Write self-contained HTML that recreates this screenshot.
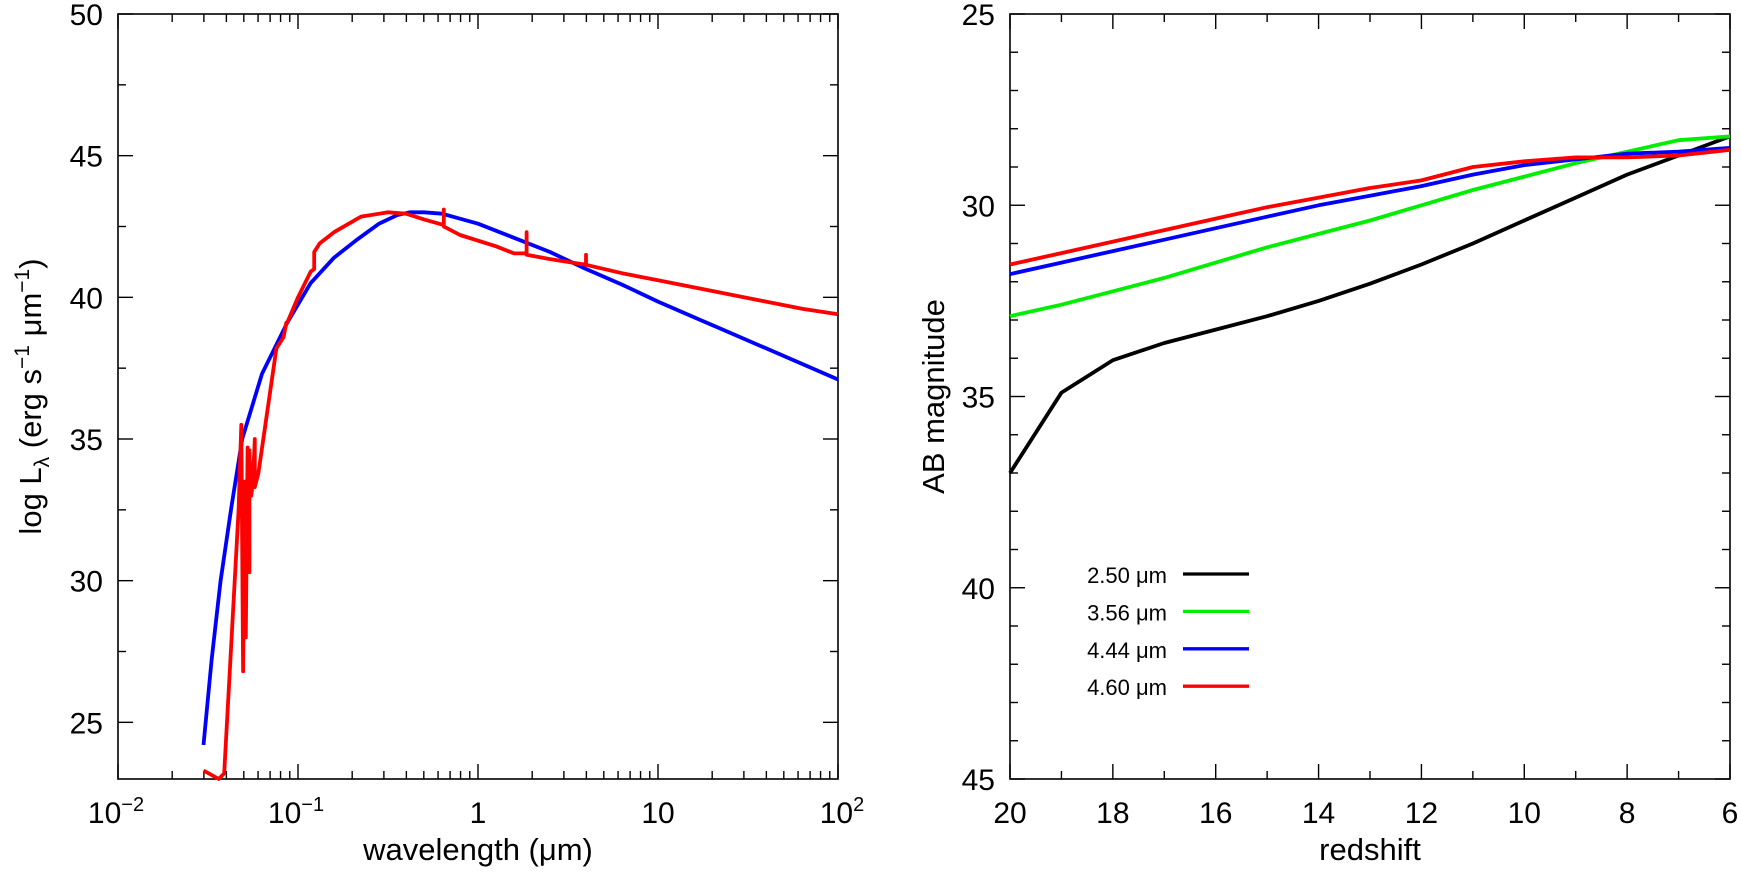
<!DOCTYPE html>
<html><head><meta charset="utf-8"><style>
body{margin:0;background:#fff}
svg{display:block;font-family:"Liberation Sans",Arial,sans-serif}
</style></head><body>
<svg id="chart" width="1741" height="881" viewBox="0 0 1741 881" xmlns="http://www.w3.org/2000/svg"></svg>
<script>
// Left panel data: log10(wavelength um), log L
const blueLogLam=[-1.525,-1.48,-1.43,-1.37,-1.31,-1.2,-1.06,-0.93,-0.8,-0.68,-0.55,-0.45,-0.38,-0.3,-0.2,0,0.2,0.4,0.6,0.8,1.0,1.2,1.4,1.6,1.8,2.0];
const blueLogL=[24.2,27.2,30.0,32.6,35.0,37.3,39.1,40.5,41.4,42.0,42.6,42.9,43.0,43.0,42.95,42.6,42.1,41.6,41.0,40.45,39.85,39.3,38.75,38.2,37.65,37.1];
const redLogLam=[-1.525,-1.44,-1.41,-1.33,-1.315,-1.305,-1.295,-1.29,-1.28,-1.27,-1.27,-1.26,-1.25,-1.24,-1.24,-1.22,-1.17,-1.12,-1.08,-1.065,-1.06,-1.0,-0.93,-0.91,-0.91,-0.88,-0.8,-0.65,-0.5,-0.4,-0.3,-0.19,-0.19,-0.19,-0.1,0.1,0.2,0.27,0.27,0.27,0.4,0.6,0.6,0.6,0.8,1.0,1.2,1.4,1.6,1.8,2.0];
const redLogL=[23.3,23.0,23.2,32.5,35.5,26.8,33.5,28.0,34.7,30.3,34.6,33.0,33.5,35.0,33.3,33.8,36.0,38.2,38.6,39.1,39.1,40.0,40.9,41.0,41.6,41.9,42.3,42.85,43.0,42.95,42.75,42.55,43.1,42.5,42.2,41.8,41.55,41.55,42.3,41.5,41.35,41.15,41.5,41.15,40.85,40.6,40.35,40.1,39.85,39.6,39.4];
// Right panel data: redshift vs AB magnitude
const redshifts=[20,19,18,17,16,15,14,13,12,11,10,9,8,7,6];
const mag250=[37.0,34.9,34.05,33.6,33.25,32.9,32.5,32.05,31.55,31.0,30.4,29.8,29.2,28.7,28.2];
const mag356=[32.9,32.6,32.25,31.9,31.5,31.1,30.75,30.4,30.0,29.6,29.25,28.9,28.6,28.3,28.2];
const mag444=[31.8,31.5,31.2,30.9,30.6,30.3,30.0,29.75,29.5,29.2,28.95,28.8,28.65,28.6,28.5];
const mag460=[31.55,31.25,30.95,30.65,30.35,30.05,29.8,29.55,29.35,29.0,28.85,28.75,28.75,28.7,28.55];
const legendLabels=["2.50 μm","3.56 μm","4.44 μm","4.60 μm"];
const legendColors=["#000","#00ee00","#0000ff","#ff0000"];

const NS="http://www.w3.org/2000/svg";
const svg=document.getElementById('chart');
function el(tag,attrs,parent){const e=document.createElementNS(NS,tag);for(const k in attrs)e.setAttribute(k,attrs[k]);(parent||svg).appendChild(e);return e;}

const L={x0:118,x1:838,y0:14,y1:779};
const lx=v=>L.x0+(v+2)/4*(L.x1-L.x0);
const ly=v=>L.y0+(50-v)/27*(L.y1-L.y0);
const R={x0:1010,x1:1730,y0:14,y1:779};
const rx=z=>R.x0+(20-z)/14*(R.x1-R.x0);
const ry=m=>R.y0+(m-25)/20*(R.y1-R.y0);

function text(x,y,s,opts,name){const t=el('text',Object.assign({x:x,y:y,'font-size':30,fill:'#000'},opts||{}));t.textContent=s;


return t;}

let f=el('rect',{x:L.x0,y:L.y0,width:L.x1-L.x0,height:L.y1-L.y0,fill:'none',stroke:'#000','stroke-width':1.6});


let g=el('g',{stroke:'#000','stroke-width':1.4});


for(let v=25;v<=50;v+=2.5){const y=ly(v);const len=(v%5===0)?15:8;
el('line',{x1:L.x0,y1:y,x2:L.x0+len,y2:y},g);el('line',{x1:L.x1,y1:y,x2:L.x1-len,y2:y},g);}
for(let d=-2;d<=2;d++){const x=lx(d);el('line',{x1:x,y1:L.y1,x2:x,y2:L.y1-15},g);el('line',{x1:x,y1:L.y0,x2:x,y2:L.y0+15},g);
if(d<2)for(let m=2;m<10;m++){const xm=lx(d+Math.log10(m));el('line',{x1:xm,y1:L.y1,x2:xm,y2:L.y1-8},g);el('line',{x1:xm,y1:L.y0,x2:xm,y2:L.y0+8},g);}}
[25,30,35,40,45,50].forEach(v=>text(L.x0-15,ly(v)+11,String(v),{'text-anchor':'end'},'y-tick-label-'+v));
function supLabel(x,base,sup,name){const t=text(x,823,base,{'text-anchor':'middle'},name);
const s=el('tspan',{dy:-12,'font-size':20});s.textContent=sup;t.appendChild(s);return t;}
supLabel(lx(-2)-2,'10','−2','x-tick-label-0.01');
supLabel(lx(-1)-2,'10','−1','x-tick-label-0.1');
text(lx(0),823,'1',{'text-anchor':'middle'},'x-tick-label-1');
text(lx(1),823,'10',{'text-anchor':'middle'},'x-tick-label-10');
supLabel(lx(2)+4,'10','2','x-tick-label-100');
text((L.x0+L.x1)/2,860,'wavelength (μm)',{'text-anchor':'middle','font-size':31},'x-axis-title-left');
let yt=text(0,0,'log L',{'text-anchor':'middle','font-size':31,transform:'translate(41,'+((L.y0+L.y1)/2)+') rotate(-90)'},'y-axis-title-left');
let sub=el('tspan',{dy:8,'font-size':21});sub.textContent='λ';yt.appendChild(sub);
let r1=el('tspan',{dy:-8});r1.textContent=' (erg s';yt.appendChild(r1);
let r2=el('tspan',{dy:-12,'font-size':21});r2.textContent='−1';yt.appendChild(r2);
let r3=el('tspan',{dy:12});r3.textContent=' μm';yt.appendChild(r3);
let r4=el('tspan',{dy:-12,'font-size':21});r4.textContent='−1';yt.appendChild(r4);
let r5=el('tspan',{dy:12});r5.textContent=')';yt.appendChild(r5);

function poly(xs,ys,fx,fy,color,name){const p=xs.map((v,i)=>fx(v).toFixed(1)+','+fy(ys[i]).toFixed(1)).join(' ');
const e=el('polyline',{points:p,fill:'none',stroke:color,'stroke-width':3.8,'stroke-linejoin':'round'});


return e;}
poly(blueLogLam,blueLogL,lx,ly,'#0000ff','blackbody-curve');
poly(redLogLam,redLogL,lx,ly,'#ff0000','sed-curve');

f=el('rect',{x:R.x0,y:R.y0,width:R.x1-R.x0,height:R.y1-R.y0,fill:'none',stroke:'#000','stroke-width':1.6});


g=el('g',{stroke:'#000','stroke-width':1.4});


for(let v=25;v<=45;v++){const y=ry(v);const len=(v%5===0)?15:8;
el('line',{x1:R.x0,y1:y,x2:R.x0+len,y2:y},g);el('line',{x1:R.x1,y1:y,x2:R.x1-len,y2:y},g);}
for(let z=6;z<=20;z++){const x=rx(z);const len=(z%2===0)?15:8;
el('line',{x1:x,y1:R.y1,x2:x,y2:R.y1-len},g);el('line',{x1:x,y1:R.y0,x2:x,y2:R.y0+len},g);}
[25,30,35,40,45].forEach(v=>text(R.x0-15,ry(v)+11,String(v),{'text-anchor':'end'},'y-tick-label-right-'+v));
[20,18,16,14,12,10,8,6].forEach(z=>text(rx(z),823,String(z),{'text-anchor':'middle'},'x-tick-label-z'+z));
text((R.x0+R.x1)/2,860,'redshift',{'text-anchor':'middle','font-size':31},'x-axis-title-right');
text(0,0,'AB magnitude',{'text-anchor':'middle','font-size':31,transform:'translate(944,'+((R.y0+R.y1)/2)+') rotate(-90)'},'y-axis-title-right');

const series=[mag250,mag356,mag444,mag460];
const snames=['mag-2p50-line','mag-3p56-line','mag-4p44-line','mag-4p60-line'];
series.forEach((s,i)=>poly(redshifts,s,rx,ry,legendColors[i],snames[i]));

legendLabels.forEach((lab,i)=>{const y=574+i*37.4;
text(1167,y+9,lab,{'font-size':22,'text-anchor':'end'},'legend-label-'+i);
const ln=el('line',{x1:1183,y1:y,x2:1249,y2:y,stroke:legendColors[i],'stroke-width':3.3});

});
</script>
</body></html>
